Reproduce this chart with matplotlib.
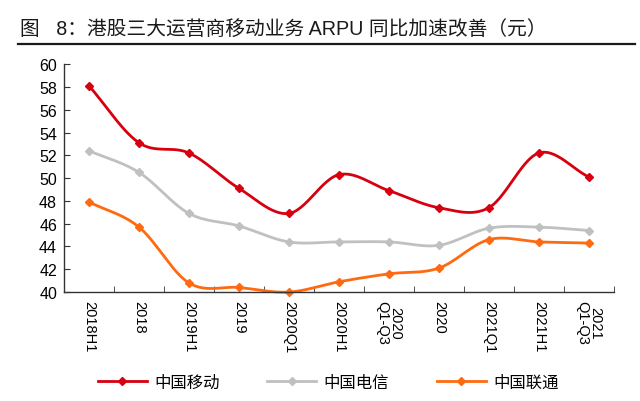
import numpy as np
import matplotlib
matplotlib.use('Agg')
import matplotlib.pyplot as plt
from matplotlib.lines import Line2D

plt.rcParams['font.family'] = ['Liberation Sans', 'Noto Sans CJK SC', 'DejaVu Sans']

# datos
periodos = ['2018H1', '2018', '2019H1', '2019', '2020Q1', '2020H1',
            '2020\nQ1-Q3', '2020', '2021Q1', '2021H1', '2021\nQ1-Q3']
movil = [58.1, 53.1, 52.2, 49.1, 46.9, 50.3, 48.9, 47.4, 47.4, 52.2, 50.1]
telecom = [52.4, 50.5, 46.9, 45.8, 44.4, 44.4, 44.4, 44.1, 45.6, 45.7, 45.4]
unicom = [47.9, 45.7, 40.8, 40.4, 40.0, 40.9, 41.6, 42.1, 44.6, 44.4, 44.3]

nombres = ['中国移动', '中国电信', '中国联通']
colores = ['#D7000F', '#C0C0C0', '#FF6A10']


def suavizar(x, y, n=30):
    # curva tipo Catmull-Rom (linea suavizada estilo Excel)
    x = np.asarray(x, float)
    y = np.asarray(y, float)
    px = np.concatenate([[2 * x[0] - x[1]], x, [2 * x[-1] - x[-2]]])
    py = np.concatenate([[2 * y[0] - y[1]], y, [2 * y[-1] - y[-2]]])
    xs, ys = [], []
    t = np.linspace(0, 1, n)
    for i in range(1, len(px) - 2):
        for p, out in ((px, xs), (py, ys)):
            p0, p1, p2, p3 = p[i - 1], p[i], p[i + 1], p[i + 2]
            out.append(0.5 * ((2 * p1) + (-p0 + p2) * t
                              + (2 * p0 - 5 * p1 + 4 * p2 - p3) * t ** 2
                              + (-p0 + 3 * p1 - 3 * p2 + p3) * t ** 3))
    return np.concatenate(xs), np.concatenate(ys)


fig = plt.figure(figsize=(6.4, 4.02), dpi=100)
ax = fig.add_axes([0.1, 0.271, 0.859, 0.567])

x = np.arange(len(periodos))
for serie, color in zip([telecom, unicom, movil], [colores[1], colores[2], colores[0]]):
    sx, sy = suavizar(x, serie)
    ax.plot(sx, sy, color=color, lw=2, solid_capstyle='round', clip_on=False)
    ax.plot(x, serie, ls='none', marker='D', ms=4.5, color=color, clip_on=False)

ax.set_xlim(-0.5, len(periodos) - 0.5)
ax.set_ylim(40, 60)
ax.set_yticks(range(40, 61, 2))
ax.set_xticks(x)
ax.set_xticklabels(periodos, rotation=270, fontsize=10.5, va='top', ha='center',
                   linespacing=0.95)
ax.set_xticks(np.arange(-0.5, len(periodos), 1), minor=True)
ax.tick_params(axis='x', which='major', length=0, pad=6)
ax.tick_params(axis='x', which='minor', direction='in', length=4, color='#333333')
ax.tick_params(axis='y', direction='in', length=4, labelsize=11.5, pad=5, color='#333333')
for s in ['top', 'right']:
    ax.spines[s].set_visible(False)
for s in ['left', 'bottom']:
    ax.spines[s].set_color('#333333')
    ax.spines[s].set_linewidth(1)

fig.legend([Line2D([0, 1, 2], [0, 0, 0], color=c, lw=2, marker='D', ms=4, markevery=[1])
            for c in colores], nombres,
           loc='center', bbox_to_anchor=(0.513, 0.047), ncol=3, frameon=False,
           fontsize=11.8, handlelength=3, handletextpad=0.45, columnspacing=2.9)

fig.text(0.031, 0.927, '图   8：港股三大运营商移动业务 ARPU 同比加速改善（元）',
         fontsize=14.2, color='#1a1a1a', va='center')
fig.add_artist(Line2D([0.028, 0.992], [0.888, 0.888], color='#1a1a1a', lw=1.6,
                      transform=fig.transFigure))

fig.savefig('out.png', dpi=100)
